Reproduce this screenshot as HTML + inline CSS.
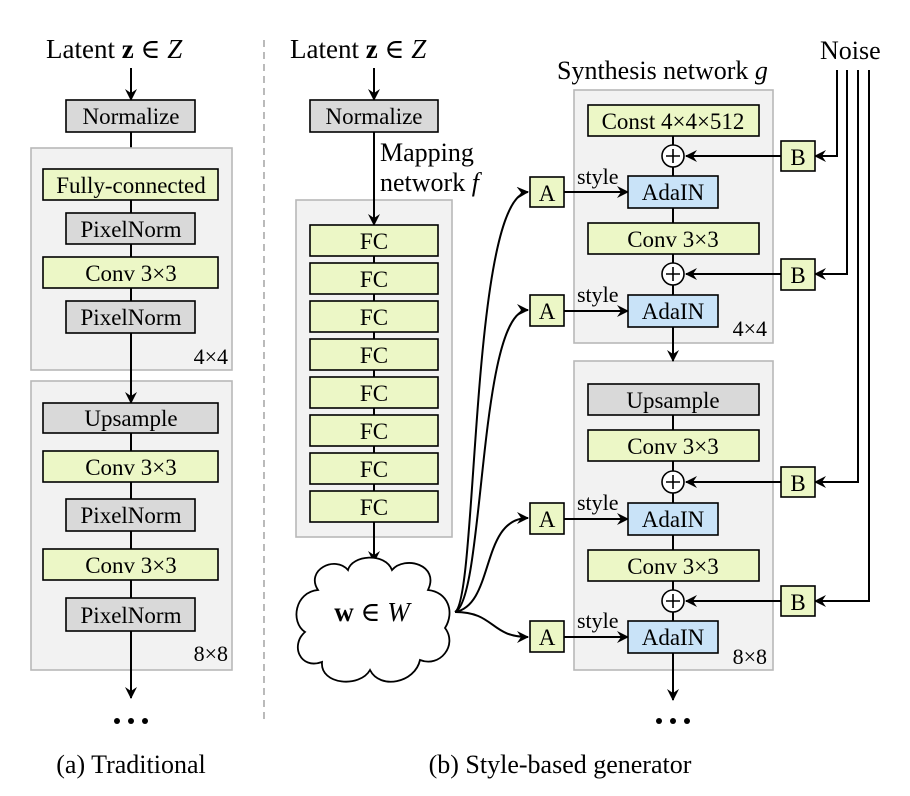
<!DOCTYPE html>
<html><head><meta charset="utf-8"><style>
html,body{margin:0;padding:0;background:#fff;}
svg{display:block;font-family:"Liberation Serif","DejaVu Serif",serif;}
svg text{font-family:"Liberation Serif","DejaVu Serif",serif !important;fill:#000;}
.b{stroke:#000;stroke-width:1.6;}
.y{fill:#ecf7c6;}
.g{fill:#d9d9d9;}
.u{fill:#c9e3f8;}
.grp{fill:#f2f2f2;stroke:#b8b8b8;stroke-width:1.6;}
.l{stroke:#000;stroke-width:2;fill:none;}
.t{font-size:23px;text-anchor:middle;}
</style></head><body>
<svg width="910" height="796" viewBox="0 0 910 796" xmlns="http://www.w3.org/2000/svg" font-family="Liberation Serif, serif">
<defs>
<marker id="ar" viewBox="0 0 12 12" refX="11" refY="6" markerWidth="12" markerHeight="12" markerUnits="userSpaceOnUse" orient="auto">
<path d="M0,0 L12,6 L0,12 L4,6 Z" fill="#000"/>
</marker>
</defs>

<line x1="264" y1="40" x2="264" y2="722" stroke="#aaa" stroke-width="1.6" stroke-dasharray="7,5"/>

<!-- (a) Traditional -->
<text x="46" y="58" font-size="27">Latent <tspan font-weight="bold">z</tspan> ∈ <tspan font-style="italic">Z</tspan></text>
<line class="l" x1="131" y1="68" x2="131" y2="100" marker-end="url(#ar)"/>
<rect class="b g" x="66" y="100" width="129" height="32"/>
<text class="t" x="131" y="124">Normalize</text>
<line class="l" x1="131" y1="132" x2="131" y2="168" marker-end="url(#ar)"/>
<rect class="grp" x="31" y="148" width="201" height="222"/>
<line class="l" x1="131" y1="169" x2="131" y2="370"/>
<rect class="b y" x="43" y="169" width="175" height="31"/>
<text class="t" x="131" y="193">Fully-connected</text>
<rect class="b g" x="66" y="213" width="129" height="31"/>
<text class="t" x="131" y="237">PixelNorm</text>
<rect class="b y" x="43" y="257" width="175" height="31"/>
<text class="t" x="131" y="281">Conv 3×3</text>
<rect class="b g" x="66" y="301" width="129" height="32"/>
<text class="t" x="131" y="325">PixelNorm</text>
<text x="228" y="364" font-size="22" text-anchor="end">4×4</text>
<rect class="grp" x="31" y="381" width="201" height="289"/>
<line class="l" x1="131" y1="360" x2="131" y2="403" marker-end="url(#ar)"/>
<line class="l" x1="131" y1="403" x2="131" y2="698" marker-end="url(#ar)"/>
<rect class="b g" x="43" y="403" width="175" height="30"/>
<text class="t" x="131" y="426">Upsample</text>
<rect class="b y" x="43" y="451" width="175" height="31"/>
<text class="t" x="131" y="475">Conv 3×3</text>
<rect class="b g" x="66" y="499" width="129" height="32"/>
<text class="t" x="131" y="523">PixelNorm</text>
<rect class="b y" x="43" y="549" width="175" height="31"/>
<text class="t" x="131" y="573">Conv 3×3</text>
<rect class="b g" x="66" y="598" width="129" height="33"/>
<text class="t" x="131" y="623">PixelNorm</text>
<text x="228" y="661" font-size="22" text-anchor="end">8×8</text>
<g fill="#000"><circle cx="117" cy="721" r="3"/><circle cx="131" cy="721" r="3"/><circle cx="145" cy="721" r="3"/></g>
<text x="131" y="773" font-size="26" text-anchor="middle">(a) Traditional</text>

<!-- (b) mapping -->
<text x="290" y="58" font-size="27">Latent <tspan font-weight="bold">z</tspan> ∈ <tspan font-style="italic">Z</tspan></text>
<line class="l" x1="374" y1="68" x2="374" y2="100" marker-end="url(#ar)"/>
<rect class="b g" x="310" y="100" width="128" height="32"/>
<text class="t" x="374" y="124">Normalize</text>
<text x="380" y="161" font-size="26">Mapping</text>
<text x="380" y="191" font-size="26">network <tspan font-style="italic">f</tspan></text>
<rect class="grp" x="296" y="200" width="156" height="337"/>
<line class="l" x1="374" y1="132" x2="374" y2="225" marker-end="url(#ar)"/>
<line class="l" x1="374" y1="225" x2="374" y2="562" marker-end="url(#ar)"/>
<g>
<rect class="b y" x="310" y="225" width="128" height="31"/><text class="t" x="374" y="249">FC</text>
<rect class="b y" x="310" y="263" width="128" height="31"/><text class="t" x="374" y="287">FC</text>
<rect class="b y" x="310" y="301" width="128" height="31"/><text class="t" x="374" y="325">FC</text>
<rect class="b y" x="310" y="339" width="128" height="31"/><text class="t" x="374" y="363">FC</text>
<rect class="b y" x="310" y="377" width="128" height="31"/><text class="t" x="374" y="401">FC</text>
<rect class="b y" x="310" y="415" width="128" height="31"/><text class="t" x="374" y="439">FC</text>
<rect class="b y" x="310" y="453" width="128" height="31"/><text class="t" x="374" y="477">FC</text>
<rect class="b y" x="310" y="491" width="128" height="31"/><text class="t" x="374" y="515">FC</text>
</g>
<path d="M318,590 C305,570 335,555 348,570 C352,555 385,552 392,570 C405,555 440,565 428,590 C448,592 455,612 445,628 C458,645 440,668 420,660 C415,683 380,690 370,670 C360,688 320,685 322,662 C300,670 290,645 305,632 C290,622 295,592 318,590 Z" fill="#fff" stroke="#000" stroke-width="1.8"/>
<text x="372" y="621" font-size="27" text-anchor="middle"><tspan font-weight="bold">w</tspan> ∈ <tspan font-style="italic">W</tspan></text>

<path class="l" d="M455,612 C478,600 470,196 528,192" marker-end="url(#ar)"/>
<path class="l" d="M455,612 C485,600 478,310 528,310" marker-end="url(#ar)"/>
<path class="l" d="M455,612 C495,605 480,518 528,518" marker-end="url(#ar)"/>
<path class="l" d="M455,612 C495,612 490,637 528,637" marker-end="url(#ar)"/>

<!-- synthesis -->
<text x="557" y="79" font-size="26">Synthesis network <tspan font-style="italic">g</tspan></text>
<text x="820" y="59" font-size="26">Noise</text>
<rect class="grp" x="574" y="90" width="199" height="253"/>
<rect class="grp" x="574" y="361" width="199" height="309"/>
<line class="l" x1="673" y1="105" x2="673" y2="327"/>
<line class="l" x1="673" y1="327" x2="673" y2="361" marker-end="url(#ar)"/>
<line class="l" x1="673" y1="384" x2="673" y2="653"/>
<line class="l" x1="673" y1="653" x2="673" y2="700" marker-end="url(#ar)"/>

<path class="l" d="M837,70 V156 H815" marker-end="url(#ar)"/>
<path class="l" d="M847,70 V274 H815" marker-end="url(#ar)"/>
<path class="l" d="M858,70 V482 H815" marker-end="url(#ar)"/>
<path class="l" d="M869,70 V601 H815" marker-end="url(#ar)"/>

<rect class="b y" x="588" y="105" width="171" height="31"/><text class="t" x="673" y="129">Const 4×4×512</text>
<rect class="b y" x="588" y="223" width="171" height="31"/><text class="t" x="673" y="247">Conv 3×3</text>
<rect class="b g" x="588" y="384" width="171" height="31"/><text class="t" x="673" y="408">Upsample</text>
<rect class="b y" x="588" y="430" width="171" height="31"/><text class="t" x="673" y="454">Conv 3×3</text>
<rect class="b y" x="588" y="550" width="171" height="31"/><text class="t" x="673" y="574">Conv 3×3</text>

<line class="l" x1="781" y1="156" x2="686" y2="156" marker-end="url(#ar)"/>
<line class="l" x1="781" y1="274" x2="686" y2="274" marker-end="url(#ar)"/>
<line class="l" x1="781" y1="482" x2="686" y2="482" marker-end="url(#ar)"/>
<line class="l" x1="781" y1="601" x2="686" y2="601" marker-end="url(#ar)"/>
<g fill="#fff" stroke="#000" stroke-width="1.6">
<circle cx="673" cy="156" r="11"/><circle cx="673" cy="274" r="11"/><circle cx="673" cy="482" r="11"/><circle cx="673" cy="601" r="11"/>
</g>
<g stroke="#000" stroke-width="1.6">
<path d="M666,156 H680 M673,149 V163"/><path d="M666,274 H680 M673,267 V281"/><path d="M666,482 H680 M673,475 V489"/><path d="M666,601 H680 M673,594 V608"/>
</g>
<rect class="b y" x="781" y="141" width="34" height="30"/><text class="t" x="798" y="165">B</text>
<rect class="b y" x="781" y="259" width="34" height="31"/><text class="t" x="798" y="283">B</text>
<rect class="b y" x="781" y="467" width="34" height="30"/><text class="t" x="798" y="491">B</text>
<rect class="b y" x="781" y="586" width="34" height="30"/><text class="t" x="798" y="610">B</text>

<line class="l" x1="564" y1="192" x2="628" y2="192" marker-end="url(#ar)"/>
<line class="l" x1="564" y1="311" x2="628" y2="311" marker-end="url(#ar)"/>
<line class="l" x1="564" y1="519" x2="628" y2="519" marker-end="url(#ar)"/>
<line class="l" x1="564" y1="637" x2="628" y2="637" marker-end="url(#ar)"/>
<rect class="b y" x="530" y="177" width="34" height="30"/><text class="t" x="547" y="201">A</text>
<rect class="b y" x="530" y="295" width="34" height="31"/><text class="t" x="547" y="319">A</text>
<rect class="b y" x="530" y="503" width="34" height="31"/><text class="t" x="547" y="527">A</text>
<rect class="b y" x="530" y="621" width="34" height="31"/><text class="t" x="547" y="645">A</text>
<g font-size="22">
<text x="577" y="184">style</text><text x="577" y="302">style</text><text x="577" y="510">style</text><text x="577" y="628">style</text>
</g>
<rect class="b u" x="628" y="176" width="90" height="32"/><text class="t" x="673" y="200">AdaIN</text>
<rect class="b u" x="628" y="295" width="90" height="32"/><text class="t" x="673" y="319">AdaIN</text>
<rect class="b u" x="628" y="503" width="90" height="32"/><text class="t" x="673" y="527">AdaIN</text>
<rect class="b u" x="628" y="621" width="90" height="32"/><text class="t" x="673" y="645">AdaIN</text>
<text x="767" y="336" font-size="22" text-anchor="end">4×4</text>
<text x="767" y="664" font-size="22" text-anchor="end">8×8</text>
<g fill="#000"><circle cx="659" cy="721" r="3"/><circle cx="673" cy="721" r="3"/><circle cx="687" cy="721" r="3"/></g>
<text x="560" y="773" font-size="26" text-anchor="middle">(b) Style-based generator</text>
</svg>
</body></html>
